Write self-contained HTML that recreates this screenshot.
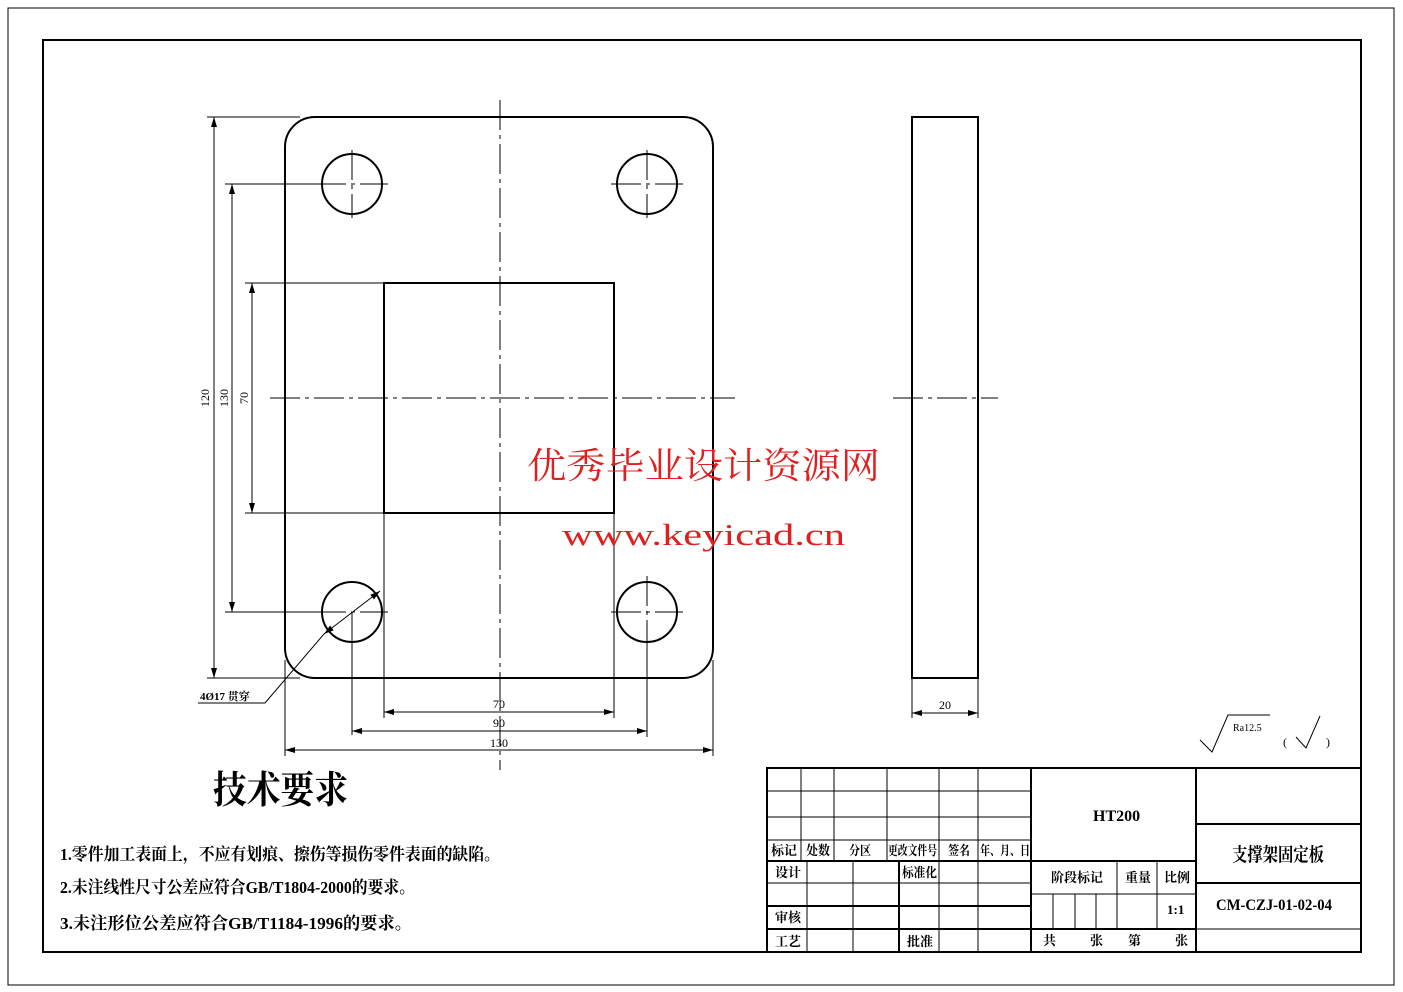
<!DOCTYPE html><html><head><meta charset="utf-8"><style>body{margin:0;background:#fff}svg{display:block}text{font-family:"Liberation Serif","Noto Serif CJK SC",serif;fill:#000}</style></head><body>
<svg width="1403" height="992" viewBox="0 0 1403 992" xmlns="http://www.w3.org/2000/svg">
<defs><marker id="a" viewBox="0 0 10 6" refX="10" refY="3" markerWidth="10" markerHeight="6" orient="auto-start-reverse" markerUnits="userSpaceOnUse"><path d="M0,0L10,3L0,6z" fill="#000"/></marker></defs>
<rect x="8" y="8" width="1386" height="977" fill="none" stroke="#000" stroke-width="1"/>
<rect x="43" y="40" width="1318" height="912" fill="none" stroke="#000" stroke-width="2"/>
<g fill="none" stroke="#000" stroke-width="2">
<rect x="285" y="117" width="428" height="561" rx="30"/>
<rect x="384" y="283" width="230" height="230"/>
<circle cx="352" cy="184" r="30"/><circle cx="647" cy="184" r="30"/><circle cx="352" cy="612" r="30"/><circle cx="647" cy="612" r="30"/>
<rect x="912" y="117" width="66" height="561"/>
</g>
<g stroke="#000" stroke-width="1" stroke-dasharray="30,5,4,5" fill="none">
<line x1="500" y1="100" x2="500" y2="770"/><line x1="270" y1="398" x2="735" y2="398"/><line x1="893" y1="398" x2="998" y2="398"/>
<line x1="316" y1="184" x2="388" y2="184"/><line x1="352" y1="150" x2="352" y2="218"/>
<line x1="611" y1="184" x2="683" y2="184"/><line x1="647" y1="150" x2="647" y2="218"/>
<line x1="316" y1="612" x2="388" y2="612"/><line x1="647" y1="576" x2="647" y2="648"/><line x1="611" y1="612" x2="683" y2="612"/>
</g>
<g stroke="#000" stroke-width="1" fill="none">
<line x1="352" y1="612" x2="352" y2="735"/>
<line x1="207" y1="117" x2="300" y2="117"/><line x1="207" y1="678" x2="300" y2="678"/>
<line x1="225" y1="184" x2="330" y2="184"/><line x1="225" y1="612" x2="330" y2="612"/>
<line x1="245" y1="283" x2="384" y2="283"/><line x1="245" y1="513" x2="384" y2="513"/>
<line x1="214" y1="117" x2="214" y2="678" marker-start="url(#a)" marker-end="url(#a)"/>
<line x1="232" y1="184" x2="232" y2="612" marker-start="url(#a)" marker-end="url(#a)"/>
<line x1="252" y1="283" x2="252" y2="513" marker-start="url(#a)" marker-end="url(#a)"/>
<line x1="384" y1="513" x2="384" y2="718"/><line x1="614" y1="513" x2="614" y2="718"/>
<line x1="647" y1="640" x2="647" y2="737"/>
<line x1="285" y1="660" x2="285" y2="756"/><line x1="713" y1="660" x2="713" y2="756"/>
<line x1="384" y1="712" x2="614" y2="712" marker-start="url(#a)" marker-end="url(#a)"/>
<line x1="352" y1="731" x2="647" y2="731" marker-start="url(#a)" marker-end="url(#a)"/>
<line x1="285" y1="750" x2="713" y2="750" marker-start="url(#a)" marker-end="url(#a)"/>
<line x1="912" y1="678" x2="912" y2="718"/><line x1="978" y1="678" x2="978" y2="718"/>
<line x1="912" y1="713" x2="978" y2="713" marker-start="url(#a)" marker-end="url(#a)"/>
<line x1="380" y1="591" x2="324" y2="634" marker-start="url(#a)" marker-end="url(#a)"/>
<polyline points="324,634 265,703 198,703"/>
<path d="M1200 740 L1212 752 L1228 715 L1270 715"/>
<path d="M1296 737 L1306 748 L1320 716"/>
</g>
<g font-size="12" text-anchor="middle">
<text x="209" y="398" transform="rotate(-90 209 398)">120</text>
<text x="228" y="398" transform="rotate(-90 228 398)">130</text>
<text x="248" y="398" transform="rotate(-90 248 398)">70</text>
<text x="499" y="708">70</text><text x="499" y="727">90</text><text x="499" y="747">130</text>
<text x="945" y="709">20</text>
</g>
<text x="200" y="700" font-size="11" font-weight="bold">4Ø17 贯穿</text>
<text x="1233" y="731" font-size="10">Ra12.5</text>
<text x="1283" y="746" font-size="12">(</text><text x="1326" y="746" font-size="12">)</text>
<text x="213" y="803" font-size="38" font-weight="bold" textLength="135" lengthAdjust="spacingAndGlyphs">技术要求</text>
<g font-size="17" font-weight="bold"><text x="60" y="860" textLength="440" lengthAdjust="spacingAndGlyphs">1.零件加工表面上，不应有划痕、擦伤等损伤零件表面的缺陷。</text>
<text x="60" y="893" textLength="355" lengthAdjust="spacingAndGlyphs">2.未注线性尺寸公差应符合GB/T1804-2000的要求。</text>
<text x="60" y="929" textLength="352" lengthAdjust="spacingAndGlyphs">3.未注形位公差应符合GB/T1184-1996的要求。</text></g>
<text x="527" y="478" font-size="36" style="fill:#e02020" textLength="353" lengthAdjust="spacingAndGlyphs">优秀毕业设计资源网</text>
<text x="562" y="545" font-size="31" style="fill:#e02020" textLength="283" lengthAdjust="spacingAndGlyphs">www.keyicad.cn</text>
<g stroke="#000" fill="none" stroke-width="1">
<rect x="767" y="768" width="594" height="184" stroke-width="2"/>
<line x1="1031" y1="768" x2="1031" y2="952" stroke-width="2"/><line x1="1196" y1="768" x2="1196" y2="952" stroke-width="2"/>
<line x1="767" y1="791" x2="1031" y2="791"/><line x1="767" y1="817" x2="1031" y2="817"/><line x1="767" y1="840" x2="1031" y2="840"/>
<line x1="767" y1="861" x2="1031" y2="861" stroke-width="2"/><line x1="767" y1="883" x2="1031" y2="883"/><line x1="767" y1="906" x2="1031" y2="906" stroke-width="2"/><line x1="767" y1="929" x2="1031" y2="929" stroke-width="2"/>
<line x1="801" y1="768" x2="801" y2="861"/><line x1="834" y1="768" x2="834" y2="861"/><line x1="887" y1="768" x2="887" y2="861"/><line x1="939" y1="768" x2="939" y2="952"/><line x1="978" y1="768" x2="978" y2="952"/>
<line x1="807" y1="861" x2="807" y2="952"/><line x1="853" y1="861" x2="853" y2="952"/><line x1="899" y1="861" x2="899" y2="952" stroke-width="2"/>
<line x1="1031" y1="861" x2="1196" y2="861" stroke-width="2"/><line x1="1031" y1="894" x2="1196" y2="894"/><line x1="1031" y1="929" x2="1196" y2="929" stroke-width="2"/>
<line x1="1117" y1="861" x2="1117" y2="929"/><line x1="1157" y1="861" x2="1157" y2="929"/>
<line x1="1053" y1="894" x2="1053" y2="929"/><line x1="1075" y1="894" x2="1075" y2="929"/><line x1="1096" y1="894" x2="1096" y2="929"/>
<line x1="1196" y1="824" x2="1361" y2="824" stroke-width="2"/><line x1="1196" y1="883" x2="1361" y2="883" stroke-width="2"/><line x1="1196" y1="929" x2="1361" y2="929"/>
</g>
<g font-size="13" font-weight="bold">
<text x="771" y="855" textLength="26" lengthAdjust="spacingAndGlyphs">标记</text><text x="806" y="855" textLength="24" lengthAdjust="spacingAndGlyphs">处数</text><text x="849" y="855" textLength="22" lengthAdjust="spacingAndGlyphs">分区</text><text x="888" y="855" textLength="49" lengthAdjust="spacingAndGlyphs">更改文件号</text><text x="948" y="855" textLength="22" lengthAdjust="spacingAndGlyphs">签名</text><text x="980" y="855" textLength="50" lengthAdjust="spacingAndGlyphs">年、月、日</text>
<text x="775" y="877">设计</text><text x="902" y="877" textLength="35" lengthAdjust="spacingAndGlyphs">标准化</text><text x="775" y="922">审核</text><text x="775" y="946">工艺</text><text x="907" y="946">批准</text>
<text x="1051" y="882">阶段标记</text><text x="1125" y="882">重量</text><text x="1164" y="882">比例</text><text x="1167" y="914">1:1</text>
<text x="1043" y="945">共</text><text x="1090" y="945">张</text><text x="1128" y="945">第</text><text x="1175" y="945">张</text>
<text x="1093" y="821" font-size="16">HT200</text>
<text x="1232" y="861" font-size="19" textLength="92" lengthAdjust="spacingAndGlyphs">支撑架固定板</text>
<text x="1216" y="910" font-size="16" textLength="116" lengthAdjust="spacingAndGlyphs">CM-CZJ-01-02-04</text>
</g>
</svg></body></html>
